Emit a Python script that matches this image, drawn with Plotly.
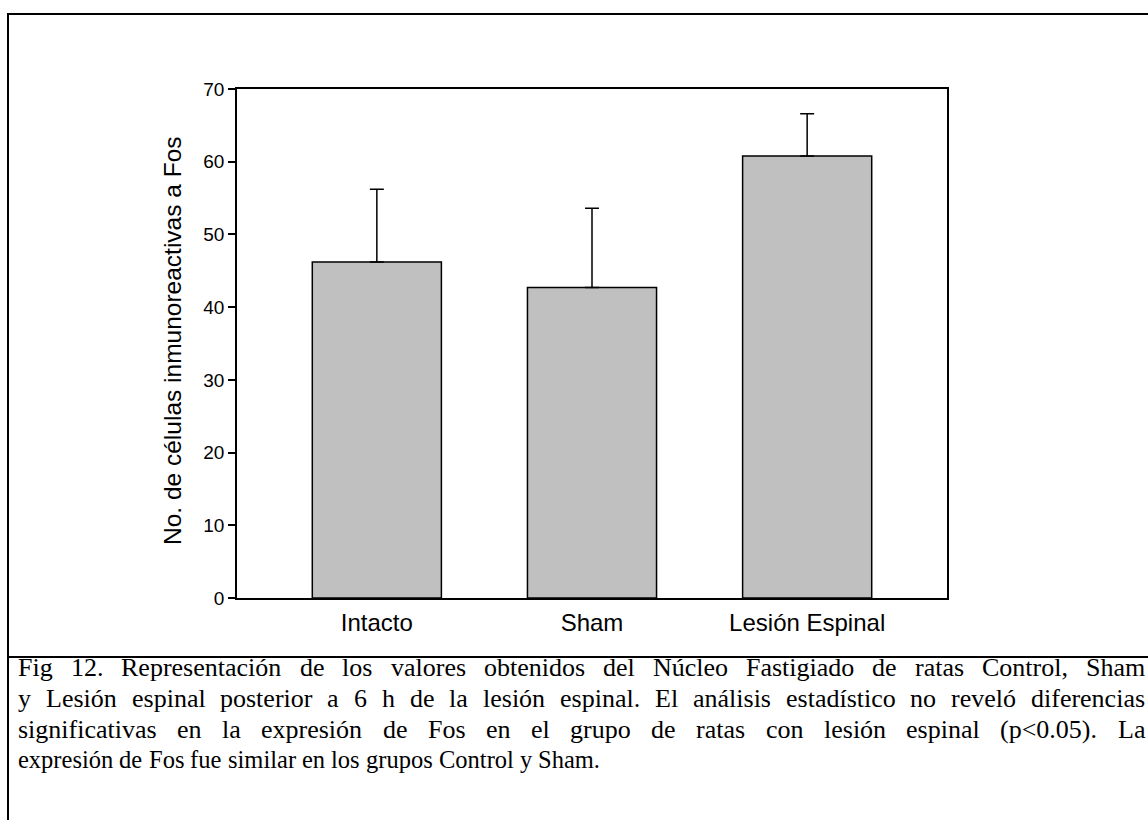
import plotly.graph_objects as go

# ---------------- data ----------------
categories = ["Intacto", "Sham", "Lesión Espinal"]
means = [46.2, 42.7, 60.8]
sem_plus = [10.0, 10.9, 5.8]
y_ticks = [0, 10, 20, 30, 40, 50, 60, 70]
y_title = "No. de células inmunoreactivas a Fos"
caption_lines = [
    "Fig 12. Representación de los valores obtenidos del Núcleo Fastigiado de ratas Control, Sham",
    "y Lesión espinal posterior a 6 h de la lesión espinal. El análisis estadístico no reveló diferencias",
    "significativas en la expresión de Fos en el grupo de ratas con lesión espinal (p<0.05). La",
    "expresión de Fos fue similar en los grupos Control y Sham.",
]

# ---------------- layout geometry (pixels) ----------------
W, H = 1148, 820
PL, PR, PT, PB = 237, 947, 89, 598   # plot area


def px(x):
    return (x - PL) / (PR - PL)


def py(y):
    return (PB - y) / (PB - PT)


# Times New Roman / Liberation Serif advance widths (per 1000 em)
TW = {" ": 250, "a": 444, "b": 500, "c": 444, "d": 500, "e": 444, "f": 333, "g": 500,
      "h": 500, "i": 278, "j": 278, "k": 500, "l": 278, "m": 778, "n": 500, "o": 500,
      "p": 500, "q": 500, "r": 333, "s": 389, "t": 278, "u": 500, "v": 500, "w": 722,
      "x": 500, "y": 500, "z": 444, "A": 722, "B": 667, "C": 667, "D": 722, "E": 611,
      "F": 556, "G": 722, "H": 722, "I": 333, "L": 611, "N": 722, "R": 667, "S": 556,
      "T": 611, ".": 250, ",": 250, "(": 333, ")": 333, "<": 564, "á": 444, "é": 444,
      "í": 278, "ó": 500, "ú": 500}


def tw(s, fs):
    return sum(TW.get(c, 500) for c in s) / 1000.0 * fs


fig = go.Figure()
fig.add_trace(go.Bar(
    x=categories, y=means, width=0.6,
    marker=dict(color="#c0c0c0", line=dict(color="black", width=1.5)),
    error_y=dict(type="data", symmetric=False, array=sem_plus, arrayminus=[0] * len(means),
                 color="black", thickness=1.5, width=7),
    showlegend=False,
))

annotations = []
# y-axis title
annotations.append(dict(
    x=px(172), y=py(341), xref="paper", yref="paper", text=y_title, textangle=-90,
    showarrow=False, font=dict(family="Liberation Sans, Arial", size=24.5, color="black"),
    xanchor="center", yanchor="middle"))

# caption, justified per word
caption_sizes = [26, 26, 26, 24.5]
left, right = 18, 1145
baselines = [675, 706, 737, 767]
for li, line in enumerate(caption_lines):
    cfs = caption_sizes[li]
    words = line.split(" ")
    widths = [tw(w, cfs) for w in words]
    if li < len(caption_lines) - 1:
        gap = (right - left - sum(widths)) / (len(words) - 1)
    else:
        gap = tw(" ", cfs)
    xcur = left
    for w, wd in zip(words, widths):
        annotations.append(dict(
            x=px(xcur - 2), y=py(baselines[li] - 0.29 * cfs), xref="paper", yref="paper", text=w,
            showarrow=False, xanchor="left", yanchor="middle",
            font=dict(family="Liberation Serif, Times New Roman", size=cfs, color="black")))
        xcur += wd + gap

shapes = [
    dict(type="line", xref="paper", yref="paper", x0=px(8), x1=px(8), y0=py(13), y1=py(830),
         line=dict(color="black", width=2)),
    dict(type="line", xref="paper", yref="paper", x0=px(7), x1=px(1160), y0=py(14), y1=py(14),
         line=dict(color="black", width=2)),
    dict(type="line", xref="paper", yref="paper", x0=px(7), x1=px(1160), y0=py(657), y1=py(657),
         line=dict(color="black", width=2)),
]

fig.update_layout(
    width=W, height=H, autosize=False,
    margin=dict(l=PL, r=W - PR, t=PT, b=H - PB, pad=0),
    paper_bgcolor="white", plot_bgcolor="white",
    font=dict(family="Liberation Sans, Arial", color="black"),
    xaxis=dict(range=[-0.65, 2.65], showline=True, mirror=True, linecolor="black", linewidth=1.5,
               ticks="", showgrid=False, zeroline=False, tickfont=dict(size=24),
               ticklabelstandoff=2),
    yaxis=dict(range=[0, 70], tickvals=y_ticks, showline=True, mirror=True, linecolor="black",
               linewidth=1.5, ticks="outside", ticklen=7, tickwidth=1.5, tickcolor="black",
               showgrid=False, zeroline=False, tickfont=dict(size=19)),
    annotations=annotations,
    shapes=shapes,
)

fig.write_html("out.html")
